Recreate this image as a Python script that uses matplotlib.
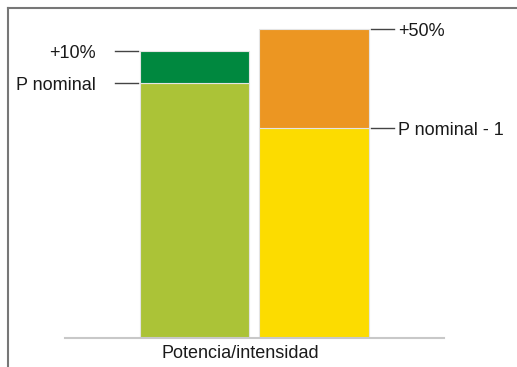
import numpy as np
import matplotlib
matplotlib.use('Agg')
import matplotlib.pyplot as plt
from matplotlib.lines import Line2D

plt.rcParams['font.family'] = ['Liberation Sans', 'DejaVu Sans']

# bar heights (arbitrary units, px-ish)
base_vals = [255, 210]      # P nominal, P nominal - 1
top_vals  = [32, 99]        # +10%, +50%
base_cols = ['#abc337', '#fcdc00']
top_cols  = ['#00883f', '#ec9622']
labels_base = ['P nominal', 'P nominal - 1']
labels_top  = ['+10%', '+50%']
xlabel = 'Potencia/intensidad'

W, H = 517, 367
fig = plt.figure(figsize=(W / 100, H / 100), dpi=100)
ax = fig.add_axes([65 / W, (H - 338) / H, 379 / W, 330 / H])

x = np.arange(2)
width = 0.92
ax.bar(x, base_vals, width, color=base_cols, edgecolor='#e4e4e4', linewidth=0.8)
ax.bar(x, top_vals, width, bottom=base_vals, color=top_cols, edgecolor='#e4e4e4', linewidth=0.8)

ax.set_xlim(-1.084, 2.088)
ax.set_ylim(0, 330)

# leader lines + labels
gap, ln = 0.017, 0.19
txt_gap = {-1: 0.16, 1: 0.04}
for i, side in zip(x, [-1, 1]):
    edge = i + side * width / 2
    x0 = edge + side * gap
    x1 = edge + side * (gap + ln)
    for yv, lab in [(base_vals[i], labels_base[i]), (base_vals[i] + top_vals[i], labels_top[i])]:
        ax.add_line(Line2D([x0, x1], [yv, yv], color='#444444', lw=1.0, clip_on=False))
        tx = x1 + side * txt_gap[side]
        ax.text(tx, yv - 2, lab, ha='left' if side > 0 else 'right', va='center',
                fontsize=13, color='#1a1a1a', clip_on=False)

for s in ['top', 'right', 'left']:
    ax.spines[s].set_visible(False)
ax.spines['bottom'].set_color('#c8c8c8')
ax.spines['bottom'].set_linewidth(1.5)
ax.set_xticks([])
ax.set_yticks([])
ax.set_xlabel(xlabel, fontsize=13, color='#1a1a1a')
ax.xaxis.set_label_coords((240 - 65) / 379, -0.021)
ax.xaxis.label.set_va('top')

# outer frame (top and left only visible)
fig.add_artist(Line2D([8 / W, 8 / W], [0, 1 - 8 / H], transform=fig.transFigure, color='#777777', lw=1.5))
fig.add_artist(Line2D([8 / W, 1], [1 - 8 / H, 1 - 8 / H], transform=fig.transFigure, color='#777777', lw=1.5))

fig.savefig('out.png', dpi=100)
